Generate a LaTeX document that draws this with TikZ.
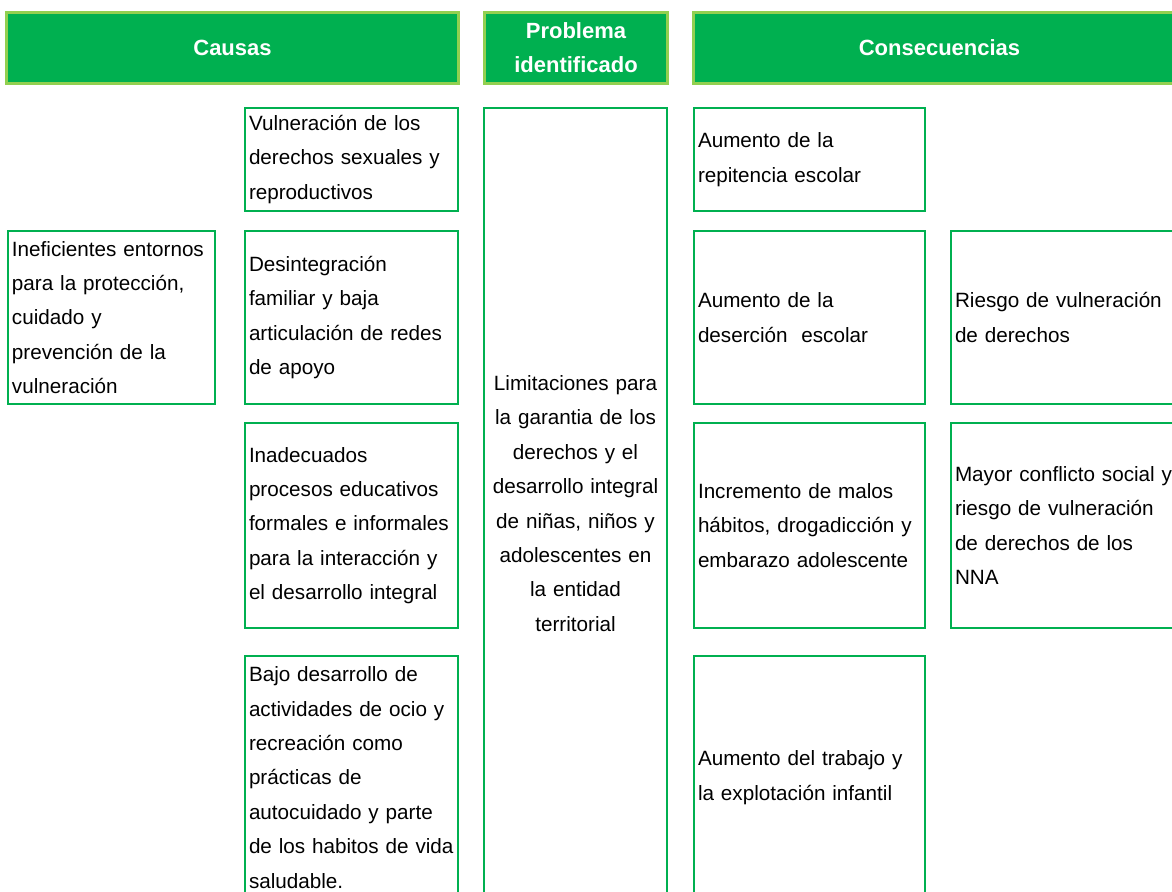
\documentclass[tikz,border=0pt]{standalone}
\usepackage{fontspec}
\setmainfont{Liberation Sans}
\usepackage{xcolor}
\usepackage{tikz}
\usetikzlibrary{positioning}

\definecolor{verde}{HTML}{00B050}
\definecolor{verdeclaro}{HTML}{92D050}

\tikzset{
	titulo/.style={draw=verdeclaro, line width=2.25pt, fill=verde, text=white,
		font=\fontsize{16.5}{25.5}\selectfont\bfseries, align=center,
		anchor=north west, minimum height=53.25pt, inner sep=0pt},
	caja/.style={draw=verde, line width=1.5pt, anchor=north west, align=left,
		inner sep=3pt, font=\fontsize{15.5}{25.8}\selectfont},
	col1/.style={caja, text width=149pt},
	col2/.style={caja, text width=153.75pt},
	col3/.style={caja, text width=167.25pt},
	col4/.style={caja, text width=170pt},
}

\begin{document}
\begin{tikzpicture}[x=0.75pt,y=-0.75pt]
	\clip (0,0) rectangle (1172,892);
	% encabezados
	\node[titulo, minimum width=339pt] (causas) at (5,11) {Causas};
	\node[titulo, minimum width=137.25pt] (problema) at (483,11) {Problema\\identificado};
	\node[titulo, minimum width=369pt] (consec) at (692,11) {Consecuencias};

	% causas
	\node[col1, minimum height=129.75pt] (c0) at (7,230) {Ineficientes entornos\\para la protecci\'on,\\cuidado y\\prevenci\'on de la\\vulneraci\'on};
	\node[col2, minimum height=77.25pt] (c1) at (244,107) {Vulneraci\'on de los\\derechos sexuales y\\reproductivos};
	\node[col2, minimum height=129.75pt] (c2) at (244,230) {Desintegraci\'on\\familiar y baja\\articulaci\'on de redes\\de apoyo};
	\node[col2, minimum height=153.75pt] (c3) at (244,422) {Inadecuados\\procesos educativos\\formales e informales\\para la interacci\'on y\\el desarrollo integral};
	\node[col2, minimum height=182.25pt] (c4) at (244,655) {Bajo desarrollo de\\actividades de ocio y\\recreaci\'on como\\pr\'acticas de\\autocuidado y parte\\de los habitos de vida\\saludable.};

	% problema
	\node[caja, align=center, text width=131.25pt, minimum height=593.25pt] (prob) at (483,107) {Limitaciones para\\la garantia de los\\derechos y el\\desarrollo integral\\de ni\~nas, ni\~nos y\\adolescentes en\\la entidad\\territorial};

	% consecuencias
	\node[col3, minimum height=77.25pt] (k1) at (693,107) {Aumento de la\\repitencia escolar};
	\node[col3, minimum height=129.75pt] (k2) at (693,230) {Aumento de la\\deserci\'on\ \ escolar};
	\node[col3, minimum height=153.75pt] (k3) at (693,422) {Incremento de malos\\h\'abitos, drogadicci\'on y\\embarazo adolescente};
	\node[col3, minimum height=182.25pt] (k4) at (693,655) {Aumento del trabajo y\\la explotaci\'on infantil};
	\node[col4, minimum height=129.75pt] (k5) at (950,230) {Riesgo de vulneraci\'on\\de derechos};
	\node[col4, minimum height=153.75pt] (k6) at (950,422) {Mayor conflicto social y\\riesgo de vulneraci\'on\\de derechos de los\\NNA};
\end{tikzpicture}
\end{document}
